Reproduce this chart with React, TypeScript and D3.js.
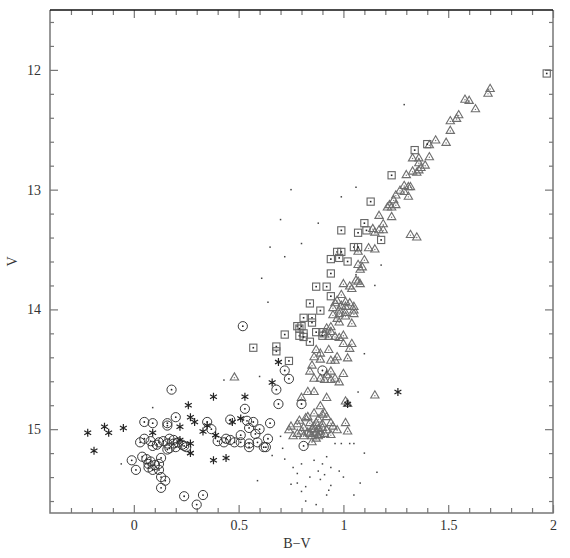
import React, { useEffect, useRef } from "react";
import * as d3 from "d3";

// each star is [B-V, V]
const triangles = [
  [1.70, 12.16], [1.69, 12.20], [1.58, 12.25], [1.60, 12.26], [1.63, 12.33], [1.55, 12.38], [1.54, 12.41],
  [1.51, 12.43], [1.51, 12.51], [1.49, 12.61], [1.44, 12.59], [1.41, 12.63], [1.41, 12.73], [1.33, 12.74],
  [1.36, 12.74], [1.36, 12.78], [1.39, 12.80], [1.37, 12.82], [1.33, 12.85], [1.36, 12.84], [1.35, 12.86],
  [1.30, 12.88], [1.29, 12.97], [1.31, 12.98], [1.32, 12.98], [1.27, 13.01], [1.29, 13.02], [1.31, 13.06],
  [1.25, 13.05], [1.24, 13.09], [1.22, 13.13], [1.25, 13.13], [1.21, 13.15], [1.23, 13.15], [1.17, 13.22],
  [1.19, 13.29], [1.23, 13.23], [1.14, 13.33], [1.17, 13.34], [1.19, 13.34], [1.15, 13.36], [1.32, 13.38],
  [1.35, 13.40], [1.07, 13.52], [1.12, 13.49], [1.15, 13.50], [1.10, 13.59], [1.07, 13.63], [1.09, 13.65],
  [1.08, 13.67], [1.06, 13.76], [1.07, 13.77], [1.08, 13.79], [1.03, 13.81], [1.00, 13.79], [1.04, 13.83],
  [0.99, 13.88], [0.97, 13.93], [1.01, 13.94], [0.96, 13.95], [1.03, 13.95], [1.05, 13.98], [1.01, 13.98],
  [0.95, 13.99], [0.98, 14.01], [1.01, 14.03], [1.05, 14.01], [0.95, 14.05], [0.98, 14.04], [1.05, 14.04],
  [1.01, 14.06], [0.97, 14.08], [0.98, 14.11], [1.04, 14.12], [0.92, 14.16], [0.94, 14.15], [0.94, 14.19],
  [0.91, 14.21], [0.93, 14.23], [0.96, 14.23], [0.98, 14.24], [1.00, 14.29], [1.04, 14.29], [1.03, 14.33],
  [0.87, 14.34], [0.89, 14.37], [0.93, 14.34], [0.86, 14.40], [0.89, 14.42], [0.94, 14.43], [0.96, 14.43],
  [0.97, 14.40], [1.02, 14.41], [0.85, 14.47], [0.84, 14.52], [0.94, 14.52], [1.00, 14.54], [0.86, 14.58],
  [0.89, 14.58], [0.91, 14.59], [0.94, 14.59], [0.98, 14.61], [0.92, 14.55], [1.15, 14.72], [0.80, 14.74],
  [0.83, 14.69], [0.86, 14.69], [0.92, 14.74], [0.89, 14.81], [0.86, 14.87], [0.90, 14.88], [0.92, 14.90],
  [0.83, 14.90], [0.82, 14.91], [0.79, 14.93], [0.78, 14.96], [0.75, 14.98], [0.74, 15.01], [0.81, 14.99],
  [0.84, 14.95], [0.87, 14.95], [0.94, 14.95], [0.95, 14.98], [0.86, 15.01], [0.89, 15.02], [0.92, 15.01],
  [0.97, 15.01], [1.01, 14.95], [1.02, 15.02], [0.81, 15.06], [0.76, 15.06], [0.85, 15.06], [0.89, 15.05],
  [0.85, 15.11], [0.88, 15.06], [0.91, 14.87], [1.01, 14.77], [1.02, 14.79], [0.86, 14.98], [0.90, 14.99],
  [0.83, 15.03], [0.88, 14.92], [0.80, 15.02], [0.94, 15.05], [0.78, 15.04], [0.87, 15.08], [0.48, 14.57],
  [0.85, 15.00], [0.88, 15.00], [0.91, 15.04], [0.84, 15.04], [0.87, 15.03], [0.90, 14.96], [0.96, 14.58],
  [1.00, 14.22], [0.99, 13.97],
];

const squares = [
  [1.97, 12.03], [1.40, 12.62], [1.34, 12.67], [1.23, 12.88], [1.13, 13.10], [1.10, 13.28], [1.11, 13.34],
  [1.07, 13.36], [0.99, 13.34], [1.18, 13.42], [1.05, 13.48], [1.07, 13.48], [0.97, 13.52], [0.99, 13.52],
  [0.94, 13.58], [0.98, 13.57], [1.02, 13.60], [0.94, 13.70], [0.87, 13.81], [0.92, 13.81], [0.94, 13.89],
  [0.84, 13.95], [0.89, 14.01], [0.81, 14.07], [0.85, 14.07], [0.85, 14.11], [0.78, 14.14], [0.80, 14.14],
  [0.79, 14.16], [0.72, 14.21], [0.79, 14.22], [0.81, 14.20], [0.81, 14.23], [0.84, 14.27], [0.87, 14.19],
  [0.90, 14.19], [0.90, 14.22], [0.57, 14.32], [0.68, 14.31], [0.68, 14.35], [0.74, 14.43],
];

const circles = [
  [0.18, 14.67], [0.74, 14.58], [0.68, 14.67], [0.69, 14.79], [0.53, 14.83], [0.52, 14.14], [0.72, 14.51],
  [0.80, 14.79], [0.90, 14.51], [0.65, 14.95], [0.57, 14.94], [0.58, 15.04], [0.64, 15.08], [0.63, 15.15],
  [0.81, 15.14], [0.05, 14.94], [0.09, 14.95], [0.20, 14.90], [0.16, 14.95], [0.16, 14.97], [0.35, 14.94],
  [0.46, 14.92], [0.54, 14.93], [0.03, 15.11], [0.05, 15.08], [0.08, 15.10], [0.11, 15.13], [0.12, 15.11],
  [0.16, 15.12], [0.17, 15.08], [0.19, 15.09], [0.21, 15.11], [0.20, 15.15], [0.23, 15.13], [0.16, 15.17],
  [0.09, 15.14], [0.24, 15.14], [0.25, 15.15], [0.17, 15.16], [0.37, 15.00], [0.40, 15.10], [0.43, 15.11],
  [0.46, 15.09], [0.48, 15.11], [0.51, 15.05], [0.51, 15.11], [0.55, 15.12], [0.55, 15.15], [0.59, 15.11],
  [0.60, 15.00], [0.55, 14.99], [0.62, 15.15], [-0.01, 15.26], [0.01, 15.34], [0.04, 15.23], [0.06, 15.25],
  [0.08, 15.27], [0.07, 15.32], [0.10, 15.30], [0.12, 15.29], [0.12, 15.34], [0.09, 15.34], [0.13, 15.24],
  [0.07, 15.29], [0.13, 15.40], [0.15, 15.43], [0.13, 15.49], [0.24, 15.56], [0.33, 15.55], [0.30, 15.63],
  [0.14, 15.10], [0.19, 15.12], [0.44, 15.08],
];

const asterisks = [
  [-0.22, 15.03], [-0.14, 14.98], [-0.12, 15.03], [-0.05, 14.99], [-0.19, 15.18], [0.26, 14.80], [0.38, 14.73],
  [0.53, 14.73], [0.66, 14.61], [0.27, 14.90], [0.29, 14.94], [0.33, 15.02], [0.38, 15.26], [0.44, 15.24],
  [0.09, 15.03], [0.27, 15.20], [0.39, 15.05], [0.51, 14.91], [0.47, 14.94], [0.22, 14.98], [0.27, 15.12],
  [0.35, 14.97], [0.69, 14.44], [1.26, 14.69], [1.02, 14.79], [0.22, 15.09],
];

const dots = [
  [0.75, 13.00], [1.06, 12.98], [0.99, 13.06], [0.70, 13.25], [0.88, 13.28], [0.80, 13.45], [0.65, 13.48],
  [0.72, 13.56], [0.61, 13.74], [1.06, 13.71], [1.15, 13.80], [1.18, 13.63], [0.64, 13.94], [1.29, 12.29],
  [1.10, 14.37], [1.07, 14.69], [0.09, 14.82], [0.43, 14.59], [0.60, 14.56], [-0.06, 15.29], [1.03, 15.12],
  [1.05, 15.12], [0.92, 15.23], [0.90, 15.29], [0.80, 15.29], [0.71, 15.16], [0.70, 15.06], [0.96, 15.12],
  [0.99, 15.12], [0.75, 15.46], [0.78, 15.45], [0.82, 15.48], [0.80, 15.52], [0.94, 15.47], [0.93, 15.51],
  [0.92, 15.55], [1.05, 15.55], [0.59, 15.43], [0.86, 15.26], [0.88, 15.35], [0.91, 15.38], [0.84, 15.40],
  [0.89, 15.42], [0.94, 15.32], [0.76, 15.32], [0.78, 15.37], [0.98, 15.35], [1.00, 15.40], [1.16, 15.36],
  [0.82, 15.60], [0.87, 15.63], [1.08, 15.45], [0.72, 15.25], [1.10, 15.20], [0.66, 15.22],
];

const xTicks = [0, 0.5, 1, 1.5, 2];
const yTicks = [12, 13, 14, 15];

const Chart = () => {
  const svgRef = useRef<SVGSVGElement>(null);

  useEffect(() => {
    const dims = {
      width: 570,
      height: 558,
      margin: { top: 10, right: 17, bottom: 45, left: 50 },
    };
    const x0 = dims.margin.left;
    const x1 = dims.width - dims.margin.right;
    const y0 = dims.margin.top;
    const y1 = dims.height - dims.margin.bottom;

    const x = d3.scaleLinear([-0.4, 2], [x0, x1]);
    const y = d3.scaleLinear([11.5, 15.7], [y0, y1]);

    const xMinor = d3.range(-3, 20).map((i) => i / 10).filter((v) => !xTicks.includes(v));
    const yMinor = d3.range(58, 79).map((i) => i / 5).filter((v) => !yTicks.includes(v));

    const svg = d3.select(svgRef.current);
    svg.selectAll("*").remove();

    const axisColor = "#777";
    const font = "'Liberation Serif', serif";

    const styleAxis = (g) => {
      g.select(".domain").remove();
      g.selectAll(".tick line").attr("stroke", axisColor).attr("stroke-width", 1.2);
      g.selectAll(".tick text").attr("font-size", 14).attr("font-family", font).attr("fill", "#333");
    };

    // bottom
    svg.append("g").attr("transform", `translate(0,${y1})`)
      .call(d3.axisBottom(x).tickValues(xTicks).tickSize(-8).tickPadding(7).tickFormat((d) => String(d)))
      .call(styleAxis);
    svg.append("g").attr("transform", `translate(0,${y1})`)
      .call(d3.axisBottom(x).tickValues(xMinor).tickSize(-5).tickFormat(() => ""))
      .call(styleAxis);
    // top
    svg.append("g").attr("transform", `translate(0,${y0})`)
      .call(d3.axisTop(x).tickValues(xTicks).tickSize(-8).tickFormat(() => ""))
      .call(styleAxis);
    svg.append("g").attr("transform", `translate(0,${y0})`)
      .call(d3.axisTop(x).tickValues(xMinor).tickSize(-5).tickFormat(() => ""))
      .call(styleAxis);
    // left
    svg.append("g").attr("transform", `translate(${x0},0)`)
      .call(d3.axisLeft(y).tickValues(yTicks).tickSize(-8).tickPadding(9).tickFormat((d) => String(d)))
      .call(styleAxis);
    svg.append("g").attr("transform", `translate(${x0},0)`)
      .call(d3.axisLeft(y).tickValues(yMinor).tickSize(-4).tickFormat(() => ""))
      .call(styleAxis);
    // right
    svg.append("g").attr("transform", `translate(${x1},0)`)
      .call(d3.axisRight(y).tickValues(yTicks).tickSize(-8).tickFormat(() => ""))
      .call(styleAxis);
    svg.append("g").attr("transform", `translate(${x1},0)`)
      .call(d3.axisRight(y).tickValues(yMinor).tickSize(-4).tickFormat(() => ""))
      .call(styleAxis);

    // frame: top edge darker than the others
    svg.append("path")
      .attr("d", `M${x0},${y0}V${y1}H${x1}V${y0}`)
      .attr("fill", "none").attr("stroke", axisColor).attr("stroke-width", 1.5);
    svg.append("line")
      .attr("x1", x0).attr("x2", x1).attr("y1", y0).attr("y2", y0)
      .attr("stroke", "#111").attr("stroke-width", 1.5);

    // axis titles
    svg.append("text")
      .attr("x", 297).attr("y", 548)
      .attr("text-anchor", "middle").attr("font-family", font).attr("font-size", 14).attr("fill", "#333")
      .text("B\u2212V");
    svg.append("text")
      .attr("transform", `translate(17,${y(13.6)}) rotate(-90)`)
      .attr("text-anchor", "middle").attr("font-family", font).attr("font-size", 14).attr("fill", "#333")
      .text("V");

    const pos = (d) => `translate(${x(d[0])},${y(d[1])})`;

    // faint dots
    svg.append("g").selectAll("rect").data(dots).join("rect")
      .attr("x", (d) => x(d[0]) - 0.75).attr("y", (d) => y(d[1]) - 0.75)
      .attr("width", 1.5).attr("height", 1.5).attr("fill", "#444");

    // triangles
    const tri = d3.symbol(d3.symbolTriangle, 30);
    const gt = svg.append("g").selectAll("g").data(triangles).join("g").attr("transform", pos);
    gt.append("path").attr("d", tri()).attr("fill", "none").attr("stroke", "#6e6e6e").attr("stroke-width", 1.1);
    gt.append("circle").attr("r", 0.7).attr("fill", "#777");

    // squares
    const gs = svg.append("g").selectAll("g").data(squares).join("g").attr("transform", pos);
    gs.append("rect").attr("x", -3.6).attr("y", -3.6).attr("width", 7.2).attr("height", 7.2)
      .attr("fill", "none").attr("stroke", "#666").attr("stroke-width", 1.1);
    gs.append("rect").attr("x", -0.8).attr("y", -0.8).attr("width", 1.6).attr("height", 1.6).attr("fill", "#222");

    // circles
    const gc = svg.append("g").selectAll("g").data(circles).join("g").attr("transform", pos);
    gc.append("circle").attr("r", 4.6).attr("fill", "none").attr("stroke", "#3a3a3a").attr("stroke-width", 1);
    gc.append("circle").attr("r", 0.9).attr("fill", "#222");

    // asterisks
    svg.append("g").selectAll("path").data(asterisks).join("path")
      .attr("transform", pos)
      .attr("d", d3.symbol(d3.symbolAsterisk, 44)())
      .attr("fill", "none").attr("stroke", "#222").attr("stroke-width", 1.2);
  }, []);

  return (
    <svg
      ref={svgRef}
      width={570}
      height={558}
      style={{ position: "absolute", left: 0, top: 0, background: "#fff" }}
    />
  );
};

export default function App() {
  return <Chart />;
}
